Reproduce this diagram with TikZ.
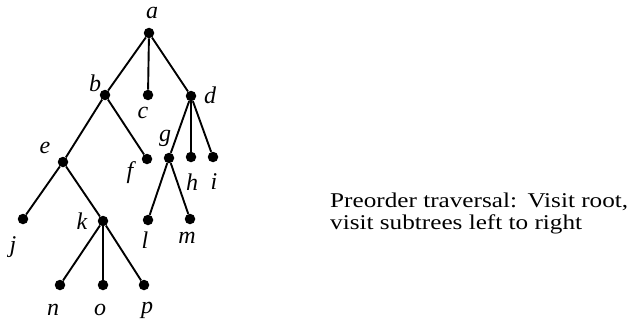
\documentclass[tikz,border=0pt]{standalone}
\usepackage{fontspec}
\setmainfont{Liberation Serif}
\newfontfamily\captionfont[FakeStretch=1.2]{Liberation Serif}
\begin{document}
\begin{tikzpicture}[x=1pt,y=-1pt,
  vertex/.style={circle,fill=black,inner sep=0pt,minimum size=10.5pt},
  edge/.style={line width=1.9pt},
  lbl/.style={inner sep=0pt,font=\fontsize{24}{26}\selectfont\itshape},
  caption/.style={inner sep=0pt,anchor=base west,font=\captionfont\fontsize{21}{23}\selectfont}]
\useasboundingbox (0,0) rectangle (637,329);
% tree vertices
\node[vertex] (a) at (149,33) {};
\node[vertex] (b) at (105,95) {};
\node[vertex] (c) at (148,95) {};
\node[vertex] (d) at (191,96) {};
\node[vertex] (e) at (63,162) {};
\node[vertex] (f) at (147,159) {};
\node[vertex] (g) at (169,158) {};
\node[vertex] (h) at (191,157) {};
\node[vertex] (i) at (213,157) {};
\node[vertex] (j) at (23,219) {};
\node[vertex] (k) at (103,221) {};
\node[vertex] (l) at (148,220) {};
\node[vertex] (m) at (190,219) {};
\node[vertex] (n) at (60,285) {};
\node[vertex] (o) at (103,285) {};
\node[vertex] (p) at (144,285) {};
% edges
\draw[edge] (a) -- (b);
\draw[edge] (a) -- (c);
\draw[edge] (a) -- (d);
\draw[edge] (b) -- (e);
\draw[edge] (b) -- (f);
\draw[edge] (d) -- (g);
\draw[edge] (d) -- (h);
\draw[edge] (d) -- (i);
\draw[edge] (e) -- (j);
\draw[edge] (e) -- (k);
\draw[edge] (g) -- (l);
\draw[edge] (g) -- (m);
\draw[edge] (k) -- (n);
\draw[edge] (k) -- (o);
\draw[edge] (k) -- (p);
% vertex labels
\node[lbl] (la) at (152,13) {a};
\node[lbl] (lb) at (95,83) {b};
\node[lbl] (lc) at (143,113) {c};
\node[lbl] (ld) at (210,95) {d};
\node[lbl] (le) at (45,148) {e};
\node[lbl] (lf) at (130,173) {f};
\node[lbl] (lg) at (165,138) {g};
\node[lbl] (lh) at (192,182) {h};
\node[lbl] (li) at (214,182) {i};
\node[lbl] (lj) at (13,247) {j};
\node[lbl] (lk) at (82,221) {k};
\node[lbl] (ll) at (145,240) {l};
\node[lbl] (lm) at (187,238) {m};
\node[lbl] (ln) at (53,310) {n};
\node[lbl] (lo) at (100,310) {o};
\node[lbl] (lp) at (147,310) {p};
% caption
\node[caption] (cap1) at (330,207) {Preorder traversal:\hspace{0.5em}Visit root,};
\node[caption] (cap2) at (330,229) {visit subtrees left to right};
\end{tikzpicture}
\end{document}
